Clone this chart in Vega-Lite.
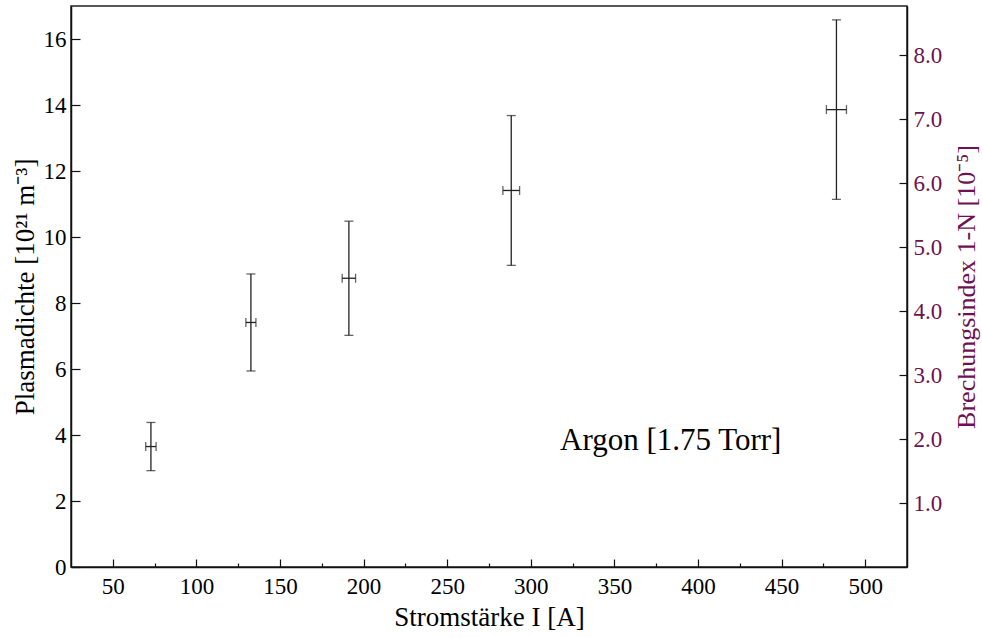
{
  "$schema": "https://vega.github.io/schema/vega-lite/v6.json",
  "width": 836,
  "height": 561,
  "autosize": "none",
  "padding": {"left": 71, "top": 6, "right": 75, "bottom": 70},
  "background": "white",
  "config": {
    "view": {"stroke": "#222", "strokeWidth": 1.5},
    "font": "Liberation Serif",
    "axis": {
      "grid": false,
      "domainColor": "#111",
      "domainWidth": 1.5,
      "tickColor": "#111",
      "tickWidth": 1.2,
      "labelFont": "Liberation Serif",
      "titleFont": "Liberation Serif",
      "labelFontSize": 23,
      "titleFontSize": 27,
      "labelColor": "black",
      "titleColor": "black",
      "titleFontWeight": "normal"
    }
  },
  "datasets": {
    "pts": [
      {"x": 72.8, "xlo": 69.7, "xhi": 75.9, "y": 3.65, "ylo": 2.92, "yhi": 4.38},
      {"x": 132.6, "xlo": 129.6, "xhi": 135.6, "y": 7.41, "ylo": 5.94, "yhi": 8.88},
      {"x": 191.2, "xlo": 187.2, "xhi": 195.2, "y": 8.75, "ylo": 7.02, "yhi": 10.48},
      {"x": 288.3, "xlo": 283.3, "xhi": 293.3, "y": 11.41, "ylo": 9.14, "yhi": 13.68},
      {"x": 482.8, "xlo": 476.8, "xhi": 488.8, "y": 13.86, "ylo": 11.14, "yhi": 16.58}
    ]
  },
  "layer": [
    {
      "layer": [
        {
          "data": {"name": "pts"},
          "mark": {"type": "errorbar", "ticks": {"size": 9, "color": "#222"}, "color": "#222", "thickness": 1.3},
          "encoding": {
            "x": {
              "field": "x",
              "type": "quantitative",
              "title": "Stromstärke I [A]",
              "scale": {"domain": [25, 525], "nice": false, "zero": false},
              "axis": {
                "values": [50, 75, 100, 125, 150, 175, 200, 225, 250, 275, 300, 325, 350, 375, 400, 425, 450, 475, 500],
                "tickSize": {"condition": {"test": "datum.value % 50 === 0", "value": -8}, "value": -4},
                "labelExpr": "datum.value % 50 === 0 ? datum.label : ''",
                "labelPadding": 16,
                "titlePadding": 6
              }
            },
            "y": {
              "field": "ylo",
              "type": "quantitative",
              "title": "Plasmadichte [10²¹ m⁻³]",
              "scale": {"domain": [0, 17], "nice": false},
              "axis": {
                "values": [0, 1, 2, 3, 4, 5, 6, 7, 8, 9, 10, 11, 12, 13, 14, 15, 16, 17],
                "tickSize": {"condition": {"test": "datum.value % 2 === 0", "value": -9}, "value": -5},
                "labelExpr": "datum.value % 2 === 0 && datum.value < 17 ? datum.label : ''",
                "labelPadding": 14,
                "titlePadding": 4
              }
            },
            "y2": {"field": "yhi"}
          }
        },
        {
          "data": {"name": "pts"},
          "mark": {"type": "errorbar", "ticks": {"size": 9, "color": "#222"}, "color": "#222", "thickness": 1.3},
          "encoding": {
            "y": {"field": "y", "type": "quantitative", "title": "Plasmadichte [10²¹ m⁻³]"},
            "x": {"field": "xlo", "type": "quantitative", "title": "Stromstärke I [A]"},
            "x2": {"field": "xhi"}
          }
        }
      ]
    },
    {
      "data": {"values": [{"label": "Argon [1.75 Torr]", "x": 383.7, "n": 1.83}]},
      "mark": {"type": "text", "fontSize": 31, "baseline": "alphabetic", "align": "center", "color": "black", "font": "Liberation Serif"},
      "encoding": {
        "x": {"field": "x", "type": "quantitative", "title": "Stromstärke I [A]"},
        "y": {
          "field": "n",
          "type": "quantitative",
          "scale": {"domain": [0, 8.766], "nice": false},
          "axis": {
            "orient": "right",
            "title": "Brechungsindex 1-N [10⁻⁵]",
            "values": [1, 2, 3, 4, 5, 6, 7, 8],
            "format": ".1f",
            "tickSize": -8,
            "labelPadding": 14,
            "labelColor": "#6d1150",
            "titleColor": "#6d1150",
            "titleFontSize": 26,
            "titleAngle": 270,
            "titleBaseline": "top",
            "titlePadding": 12
          }
        },
        "text": {"field": "label"}
      }
    }
  ],
  "resolve": {"scale": {"y": "independent"}}
}
